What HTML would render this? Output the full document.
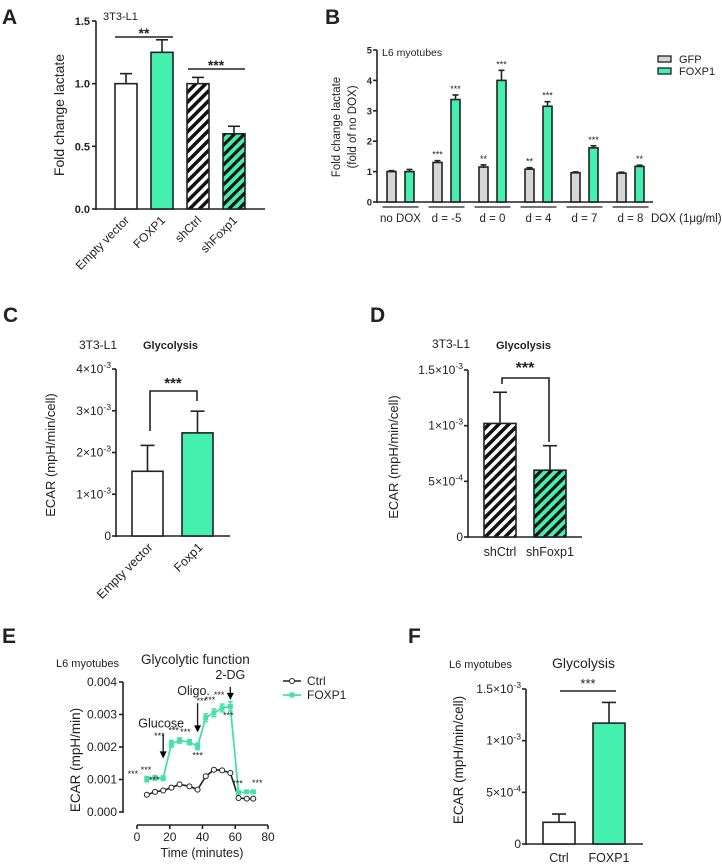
<!DOCTYPE html>
<html><head><meta charset="utf-8"><style>
html,body{margin:0;padding:0;background:#fff}
svg{display:block;font-family:"Liberation Sans",Arial,sans-serif}
</style></head><body>
<svg id="fig" width="722" height="867" viewBox="0 0 722 867" xmlns="http://www.w3.org/2000/svg">
<defs>
<pattern id="hatchW" patternUnits="userSpaceOnUse" width="7" height="7" patternTransform="rotate(45)"><rect width="7" height="7" fill="#fff"/><rect width="3.5" height="7" fill="#111"/></pattern>
<pattern id="hatchG" patternUnits="userSpaceOnUse" width="7" height="7" patternTransform="rotate(45)"><rect width="7" height="7" fill="#45efb0"/><rect width="3.2" height="7" fill="#111"/></pattern>
</defs>
</svg>
<script>
// ---------- DATA ----------
const aCats=["Empty vector","FOXP1","shCtrl","shFoxp1"];
const aVals=[1.0,1.25,1.0,0.6];
const aErr=[0.08,0.1,0.05,0.06];
const aTicks=["0.0","0.5","1.0","1.5"];
const bGroups=["no DOX","d = -5","d = 0","d = 4","d = 7","d = 8"];
const bGfp=[1.0,1.3,1.15,1.08,0.96,0.95];
const bGfpErr=[0.03,0.06,0.07,0.05,0.03,0.03];
const bFox=[1.0,3.37,4.0,3.15,1.78,1.17];
const bFoxErr=[0.07,0.15,0.33,0.15,0.07,0.04];
const bGfpSig=["","***","**","**","",""];
const bFoxSig=["","***","***","***","***","**"];
const bTicks=["0","1","2","3","4","5"];
const cCats=["Empty vector","Foxp1"];
const cVals=[1.55,2.47];
const cErr=[0.62,0.52];
const cTicks=["0","1×10","2×10","3×10","4×10"];
const dCats=["shCtrl","shFoxp1"];
const dVals=[1.02,0.6];
const dErr=[0.28,0.22];
const dTicks=["0","5×10","1×10","1.5×10"];
const dExp=["","-4","-3","-3"];
const eTime=[6,11,16,21,26,32,37,42,47,52,57,62,67,71];
const eCtrl=[0.00053,0.00062,0.00066,0.00075,0.00085,0.00079,0.00069,0.0011,0.0013,0.00128,0.0012,0.00043,0.00041,0.00041];
const eFox=[0.00101,0.00105,0.00104,0.0021,0.0022,0.00215,0.00202,0.0029,0.00305,0.0032,0.00325,0.0006,0.00062,0.00062];
const eFoxErr=[0.00008,0.00007,0.00007,0.0001,0.00008,0.00008,0.0001,0.00012,0.00012,0.00012,0.00014,0.00005,0.00004,0.00004];
const eYTicks=["0.000","0.001","0.002","0.003","0.004"];
const eXTicks=["0","20","40","60","80"];
const fCats=["Ctrl","FOXP1"];
const fVals=[0.21,1.17];
const fErr=[0.08,0.2];
const fTicks=["0","5×10","1×10","1.5×10"];
const fExp=["","-4","-3","-3"];

// ---------- HELPERS ----------
const svg=document.getElementById('fig');
const NS="http://www.w3.org/2000/svg";
function mk(tag,attrs,parent,text){const e=document.createElementNS(NS,tag);for(const k in attrs)e.setAttribute(k,attrs[k]);if(text!==undefined)e.textContent=text;(parent||svg).appendChild(e);return e;}
function grp(name){const g=mk('g',{});return g;}
function txt(g,x,y,s,size,opts){opts=opts||{};const t=mk('text',{x:x,y:y,'font-size':size,'text-anchor':opts.anchor||'start','font-weight':opts.bold?'bold':'normal',fill:'#222'},g,s);if(opts.rot!==undefined)t.setAttribute('transform','rotate('+opts.rot+' '+x+' '+y+')');return t;}
function line(g,x1,y1,x2,y2,w){const l=mk('line',{x1:x1,y1:y1,x2:x2,y2:y2,stroke:'#222','stroke-width':w||1.6},g);return l;}
function bar(g,x,w,y0,y1,fill,name){const r=mk('rect',{x:x,y:y1,width:w,height:y0-y1,fill:fill,stroke:'#222','stroke-width':1.6},g);return r;}
function errBar(g,cx,yTop,yErr,cap){line(g,cx,yTop,cx,yErr,1.6);line(g,cx-cap,yErr,cx+cap,yErr,1.6);}
function letter(s,x,y){txt(svg,x,y,s,21,{bold:true,name:'panel-letter-'+s});}
function sup(g,x,y,base,exp,size){const t=mk('text',{x:x,y:y,'font-size':size,'text-anchor':'end',fill:'#222'},g);mk('tspan',{},t,base);if(exp){mk('tspan',{dy:-5,'font-size':size*0.72},t,exp);}return t;}

// ---------- PANEL A ----------
letter('A',2,24);
(function(){const g=grp('panel-a');
const X0=96,Y0=209,YT=21,max=1.5;const y=v=>Y0-(v/max)*(Y0-YT);
line(g,X0,YT,X0,Y0+1);line(g,X0,Y0,265,Y0);
aTicks.forEach((t,i)=>{const v=i*0.5;line(g,X0-4,y(v),X0,y(v));txt(g,X0-6,y(v)+4,t,11,{anchor:'end',bold:true,name:'y-tick-label'});});
const fills=['#fff','#45efb0','url(#hatchW)','url(#hatchG)'];
aCats.forEach((c,i)=>{const cx=126+i*36;errBar(g,cx,y(aVals[i]),y(aVals[i]+aErr[i]),6);bar(g,cx-11,22,Y0,y(aVals[i]),fills[i],'bar-'+c.toLowerCase().replace(/ /g,'-'));
txt(g,cx+4,Y0+12,c,12,{anchor:'end',rot:-45,name:'x-tick-label'});});
line(g,115,37,173,37,1.4);txt(g,144,38,'**',14,{anchor:'middle',bold:true,name:'significance'});
line(g,188,69,245,69,1.4);txt(g,216,70,'***',14,{anchor:'middle',bold:true,name:'significance'});
txt(g,103,20,'3T3-L1',11,{name:'chart-subtitle'});
txt(g,64,115,'Fold change lactate',14,{anchor:'middle',rot:-90,name:'y-axis-title'});
})();

// ---------- PANEL B ----------
letter('B',325,24);
(function(){const g=grp('panel-b');
const X0=377,Y0=202,YT=50,max=5;const y=v=>Y0-(v/max)*(Y0-YT);
line(g,X0,YT,X0,Y0+1);line(g,X0,Y0,653,Y0);
bTicks.forEach((t,i)=>{line(g,X0-4,y(i),X0,y(i));txt(g,X0-5,y(i)+3.5,t,9.5,{anchor:'end',bold:true,name:'y-tick-label'});});
bGroups.forEach((gname,i)=>{const c1=391.5+i*46,c2=409.5+i*46;
errBar(g,c1,y(bGfp[i]),y(bGfp[i]+bGfpErr[i]),3);bar(g,c1-4.5,9,Y0,y(bGfp[i]),'#d6d6d6','bar-gfp-'+i);
errBar(g,c2,y(bFox[i]),y(bFox[i]+bFoxErr[i]),3);bar(g,c2-4.5,9,Y0,y(bFox[i]),'#45efb0','bar-foxp1-'+i);
if(bGfpSig[i])txt(g,c1,y(bGfp[i]+bGfpErr[i])-3,bGfpSig[i],9,{anchor:'middle',name:'significance'});
if(bFoxSig[i])txt(g,c2,y(bFox[i]+bFoxErr[i])-3,bFoxSig[i],9,{anchor:'middle',name:'significance'});
line(g,c1-9,207,c2+9,207,1.2);txt(g,(c1+c2)/2,222,gname,11.5,{anchor:'middle',name:'x-group-label'});});
txt(g,651,222,'DOX (1μg/ml)',11.5,{name:'x-axis-title'});
txt(g,382,56,'L6 myotubes',10.5,{name:'chart-subtitle'});
const l1=grp('legend-entry-gfp');mk('rect',{x:658,y:56,width:13,height:6,fill:'#d6d6d6',stroke:'#222','stroke-width':1.3},l1);txt(l1,679,63,'GFP',11,{name:'legend-label'});
const l2=grp('legend-entry-foxp1');mk('rect',{x:658,y:68,width:13,height:6,fill:'#45efb0',stroke:'#222','stroke-width':1.3},l2);txt(l2,679,75,'FOXP1',11,{name:'legend-label'});
txt(g,340,127,'Fold change lactate',11.5,{anchor:'middle',rot:-90,name:'y-axis-title'});
txt(g,356,127,'(fold of no DOX)',11.5,{anchor:'middle',rot:-90,name:'y-axis-title'});
})();

// ---------- PANEL C ----------
letter('C',3,322);
(function(){const g=grp('panel-c');
const X0=116,Y0=536,YT=369,max=4;const y=v=>Y0-(v/max)*(Y0-YT);
line(g,X0,YT,X0,Y0+1);line(g,X0,Y0,230,Y0);
cTicks.forEach((t,i)=>{line(g,X0-4,y(i),X0,y(i));sup(g,X0-5,y(i)+4,t,i?'-3':'',12);});
const fills=['#fff','#45efb0'];
cCats.forEach((c,i)=>{const cx=147.5+i*50;errBar(g,cx,y(cVals[i]),y(cVals[i]+cErr[i]),7);bar(g,cx-15.5,31,Y0,y(cVals[i]),fills[i],'bar-'+c.toLowerCase().replace(/ /g,'-'));
txt(g,cx+6,Y0+12,c,12.5,{anchor:'end',rot:-45,name:'x-tick-label'});});
mk('path',{d:'M150,431 V391 H197 V401',fill:'none',stroke:'#222','stroke-width':1.6},g);
txt(g,173,388,'***',15,{anchor:'middle',bold:true,name:'significance'});
txt(g,79,349,'3T3-L1',12,{name:'chart-subtitle'});
txt(g,143,349,'Glycolysis',11,{bold:true,name:'chart-title'});
txt(g,55,455,'ECAR (mpH/min/cell)',13,{anchor:'middle',rot:-90,name:'y-axis-title'});
})();

// ---------- PANEL D ----------
letter('D',370,322);
(function(){const g=grp('panel-d');
const X0=468,Y0=537,YT=370,max=1.5;const y=v=>Y0-(v/max)*(Y0-YT);
line(g,X0,YT,X0,Y0+1);line(g,X0,Y0,582,Y0);
dTicks.forEach((t,i)=>{const v=i*0.5;line(g,X0-4,y(v),X0,y(v));sup(g,X0-5,y(v)+4,t,dExp[i],12);});
const fills=['url(#hatchW)','url(#hatchG)'];
dCats.forEach((c,i)=>{const cx=500+i*50;errBar(g,cx,y(dVals[i]),y(dVals[i]+dErr[i]),7);bar(g,cx-16,32,Y0,y(dVals[i]),fills[i],'bar-'+c.toLowerCase());
txt(g,cx,556,c,12.5,{anchor:'middle',name:'x-tick-label'});});
mk('path',{d:'M502,384 V378 H549 V442',fill:'none',stroke:'#222','stroke-width':1.6},g);
txt(g,525,373,'***',16,{anchor:'middle',bold:true,name:'significance'});
txt(g,432,348,'3T3-L1',12,{name:'chart-subtitle'});
txt(g,496,349,'Glycolysis',11,{bold:true,name:'chart-title'});
txt(g,398,457,'ECAR (mpH/min/cell)',13,{anchor:'middle',rot:-90,name:'y-axis-title'});
})();

// ---------- PANEL E ----------
letter('E',2,643);
(function(){const g=grp('panel-e');
const X0=123,Y0=812,YT=682,max=0.004;const y=v=>Y0-(v/max)*(Y0-YT);
const XL=137,XR=268;const x=t=>XL+(t/80)*(XR-XL);
line(g,X0,YT,X0,Y0+1);
eYTicks.forEach((t,i)=>{const v=i*0.001;line(g,X0-4,y(v),X0,y(v));txt(g,X0-6,y(v)+4,t,12,{anchor:'end',name:'y-tick-label'});});
line(g,XL,825,XR,825);
eXTicks.forEach((t,i)=>{const tv=i*20;line(g,x(tv),825,x(tv),829);txt(g,x(tv),841,t,12,{anchor:'middle',name:'x-tick-label'});});
txt(g,202,857,'Time (minutes)',12.5,{anchor:'middle',name:'x-axis-title'});
const cl=mk('polyline',{points:eTime.map((t,i)=>x(t)+','+y(eCtrl[i])).join(' '),fill:'none',stroke:'#222','stroke-width':1.6},g);

eTime.forEach((t,i)=>{const c=mk('circle',{cx:x(t),cy:y(eCtrl[i]),r:2.5,fill:'#fff',stroke:'#222','stroke-width':1},g);});
const fl=mk('polyline',{points:eTime.map((t,i)=>x(t)+','+y(eFox[i])).join(' '),fill:'none',stroke:'#45e0a8','stroke-width':1.8},g);

eTime.forEach((t,i)=>{const px=x(t);mk('line',{x1:px,y1:y(eFox[i]-eFoxErr[i]),x2:px,y2:y(eFox[i]+eFoxErr[i]),stroke:'#45e0a8','stroke-width':1.5},g);
mk('line',{x1:px-2.5,y1:y(eFox[i]+eFoxErr[i]),x2:px+2.5,y2:y(eFox[i]+eFoxErr[i]),stroke:'#45e0a8','stroke-width':1.5},g);
mk('line',{x1:px-2.5,y1:y(eFox[i]-eFoxErr[i]),x2:px+2.5,y2:y(eFox[i]-eFoxErr[i]),stroke:'#45e0a8','stroke-width':1.5},g);
const c=mk('rect',{x:px-2.5,y:y(eFox[i])-2.5,width:5,height:5,fill:'#45e0a8'},g);});
const st=[[0,-14,-2],[1,-9,-5],[2,-9,5],[3,-12,-5],[4,-6,-7],[5,-4,-7],[6,0,12],[7,-4,-14],[8,-4,-10],[9,-3,-10],[10,-2,12],[11,-1,-6],[13,4,-6]];
st.forEach(s=>{const i=s[0];txt(g,x(eTime[i])+s[1],y(eFox[i])+s[2],'***',9,{anchor:'middle',name:'significance'});});
[[16,0.0024,0.00165,'Glucose',-2,0.0026],[37,0.00335,0.00245,'Oligo.',-4,0.0036],[57,0.00385,0.00345,'2-DG',0,0.0041]].forEach(a=>{
const px=x(a[0]);line(g,px,y(a[1]),px,y(a[2])-6,1.4);mk('path',{d:'M'+(px-3.5)+','+(y(a[2])-7)+' L'+(px+3.5)+','+(y(a[2])-7)+' L'+px+','+y(a[2])+' Z',fill:'#000'},g);
txt(g,px+a[4],y(a[5]),a[3],12.5,{anchor:'middle',name:'annotation'});});
txt(g,56,667,'L6 myotubes',11,{name:'chart-subtitle'});
txt(g,141,664,'Glycolytic function',13.5,{name:'chart-title'});
txt(g,80,760,'ECAR (mpH/min)',13.5,{anchor:'middle',rot:-90,name:'y-axis-title'});
const l1=grp('legend-entry-ctrl');line(l1,283,681,301,681,1.6);mk('circle',{cx:292,cy:681,r:2.5,fill:'#fff',stroke:'#222'},l1);txt(l1,307,685,'Ctrl',12,{name:'legend-label'});
const l2=grp('legend-entry-foxp1');mk('line',{x1:283,y1:695,x2:301,y2:695,stroke:'#45e0a8','stroke-width':1.8},l2);mk('rect',{x:289.5,y:692.5,width:5,height:5,fill:'#45e0a8'},l2);txt(l2,307,699,'FOXP1',12,{name:'legend-label'});
})();

// ---------- PANEL F ----------
letter('F',408,643);
(function(){const g=grp('panel-f');
const X0=526,Y0=844,YT=689,max=1.5;const y=v=>Y0-(v/max)*(Y0-YT);
line(g,X0,YT,X0,Y0+1);line(g,X0,Y0,643,Y0);
fTicks.forEach((t,i)=>{const v=i*0.5;line(g,X0-4,y(v),X0,y(v));sup(g,X0-5,y(v)+4,t,fExp[i],12);});
const fills=['#fff','#45efb0'];
fCats.forEach((c,i)=>{const cx=559+i*50;errBar(g,cx,y(fVals[i]),y(fVals[i]+fErr[i]),7);bar(g,cx-16,32,Y0,y(fVals[i]),fills[i],'bar-'+c.toLowerCase());
txt(g,cx,862,c,12.5,{anchor:'middle',name:'x-tick-label'});});
line(g,560,691,616,691,1.4);txt(g,588,688,'***',13,{anchor:'middle',name:'significance'});
txt(g,449,668,'L6 myotubes',11,{name:'chart-subtitle'});
txt(g,552,668,'Glycolysis',14,{name:'chart-title'});
txt(g,463,760,'ECAR (mpH/min/cell)',13.5,{anchor:'middle',rot:-90,name:'y-axis-title'});
})();
</script>
</body></html>
